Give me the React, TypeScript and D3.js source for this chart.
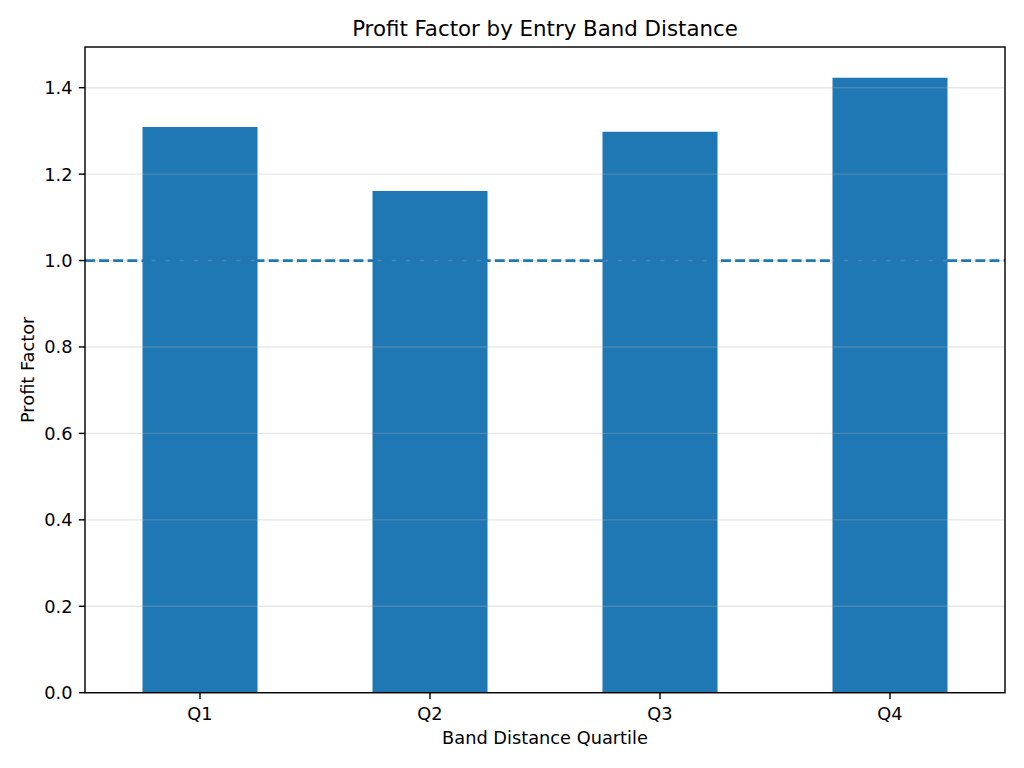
import React from 'react';
import * as d3 from 'd3';

// quartile buckets and their profit factor
const quartiles = ['Q1', 'Q2', 'Q3', 'Q4'];
const profitFactor = [1.309, 1.161, 1.298, 1.423];
const yTicks = [0.0, 0.2, 0.4, 0.6, 0.8, 1.0, 1.2, 1.4];
const breakEven = 1.0;

const W = 1024;
const H = 768;
const margin = { top: 47, right: 19, bottom: 75.3, left: 85 };
const FONT = 'DejaVu Sans, sans-serif';
const BLUE = '#1f77b4';
const PT = 128 / 72; // figure rendered at 128 dpi

const App: React.FC = () => {
  const x0 = margin.left;
  const x1 = W - margin.right;
  const y0 = H - margin.bottom;
  const y1 = margin.top;

  const yMax = d3.max(profitFactor)! * 1.05;
  const x = d3.scaleLinear().domain([-0.5, quartiles.length - 0.5]).range([x0, x1]);
  const y = d3.scaleLinear().domain([0, yMax]).range([y0, y1]);
  const barW = x(0.5) - x(0);
  const tick = 3.5 * PT;
  const lw = 0.8 * PT;
  const dashW = 1.5 * PT;

  return (
    <svg width={W} height={H} style={{ display: 'block', position: 'absolute', left: 0, top: 0 }}>
      <rect width={W} height={H} fill="#fff" />

      {/* bars */}
      {profitFactor.map((v, i) => (
        <rect
          key={quartiles[i]}
          x={x(i) - barW / 2}
          y={y(v)}
          width={barW}
          height={y(0) - y(v)}
          fill={BLUE}
        />
      ))}

      {/* horizontal grid */}
      {yTicks.map(t => (
        <line key={t} x1={x0} x2={x1} y1={y(t)} y2={y(t)} stroke="#b0b0b0" strokeOpacity={0.3} strokeWidth={lw} />
      ))}

      {/* break-even line */}
      <line
        x1={x0}
        x2={x1}
        y1={y(breakEven)}
        y2={y(breakEven)}
        stroke={BLUE}
        strokeWidth={dashW}
        strokeDasharray={`${3.7 * dashW},${1.6 * dashW}`}
      />

      {/* frame */}
      <rect x={x0} y={y1} width={x1 - x0} height={y0 - y1} fill="none" stroke="#000" strokeWidth={lw} />

      {/* axes */}
      <g fontFamily={FONT} fontSize={10 * PT} fill="#000">
        {yTicks.map(t => (
          <g key={t}>
            <line x1={x0 - tick} x2={x0} y1={y(t)} y2={y(t)} stroke="#000" strokeWidth={lw} />
            <text x={x0 - 2 * tick} y={y(t)} dy="0.36em" textAnchor="end">{t.toFixed(1)}</text>
          </g>
        ))}
        {quartiles.map((q, i) => (
          <g key={q}>
            <line x1={x(i)} x2={x(i)} y1={y0} y2={y0 + tick} stroke="#000" strokeWidth={lw} />
            <text x={x(i)} y={719.5} textAnchor="middle">{q}</text>
          </g>
        ))}
        <text x={(x0 + x1) / 2} y={744} textAnchor="middle">Band Distance Quartile</text>
        <text transform={`translate(34,${(y0 + y1) / 2}) rotate(-90)`} textAnchor="middle">Profit Factor</text>
      </g>

      <text x={(x0 + x1) / 2} y={36} textAnchor="middle" fontFamily={FONT} fontSize={12 * PT} fill="#000">
        Profit Factor by Entry Band Distance
      </text>
    </svg>
  );
};

export default App;
